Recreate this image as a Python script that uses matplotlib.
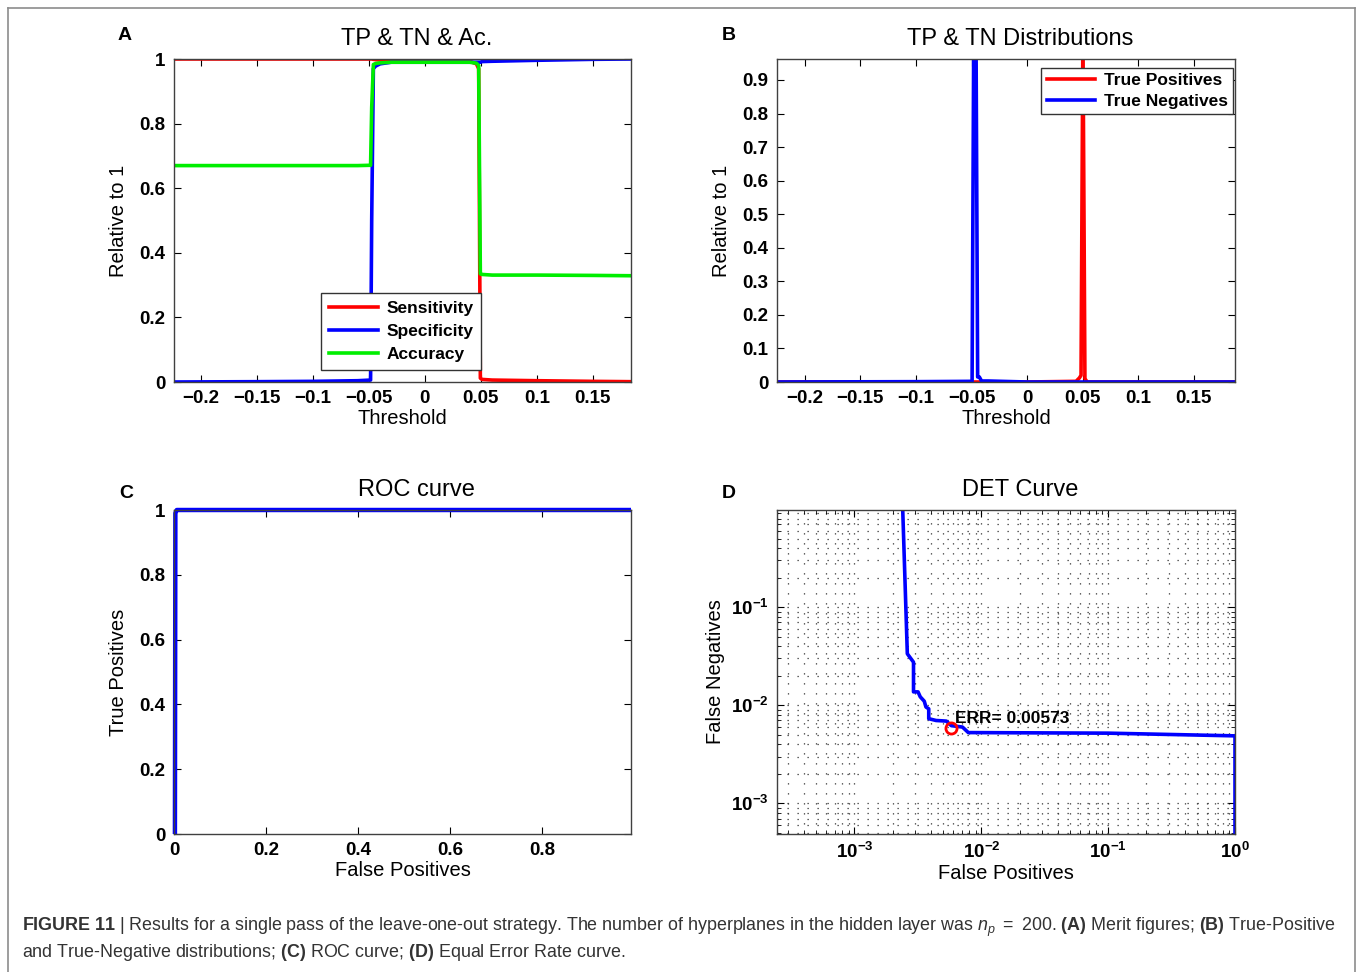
import numpy as np
import matplotlib
matplotlib.use('Agg')
import matplotlib.pyplot as plt
from matplotlib.ticker import FuncFormatter, FixedLocator, LogLocator, NullFormatter
from matplotlib.lines import Line2D

plt.rcParams['font.family'] = ['Liberation Sans', 'DejaVu Sans']
plt.rcParams['mathtext.fontset'] = 'custom'
plt.rcParams['mathtext.rm'] = 'Liberation Sans'
plt.rcParams['mathtext.it'] = 'Liberation Sans:italic'
plt.rcParams['mathtext.bf'] = 'Liberation Sans:bold'

# --- A: merit figures vs threshold
thr_a = [-0.224, -0.15, -0.1, -0.06, -0.0485, -0.0475, -0.046, -0.044, -0.04, -0.03, 0.0,
         0.03, 0.04, 0.046, 0.048, 0.0495, 0.051, 0.06, 0.1, 0.15, 0.184]
sensitivity = [1.0, 1.0, 1.0, 1.0, 1.0, 1.0, 0.999, 0.998, 0.997, 0.997, 0.996,
               0.995, 0.993, 0.985, 0.97, 0.012, 0.008, 0.006, 0.004, 0.002, 0.001]
specificity = [0.0, 0.001, 0.002, 0.004, 0.006, 0.5, 0.97, 0.978, 0.985, 0.99, 0.99,
               0.99, 0.99, 0.99, 0.99, 0.99, 0.992, 0.993, 0.996, 0.999, 1.0]
accuracy = [0.67, 0.67, 0.67, 0.67, 0.671, 0.85, 0.983, 0.986, 0.988, 0.99, 0.99,
            0.99, 0.99, 0.987, 0.98, 0.335, 0.333, 0.331, 0.331, 0.33, 0.329]

# --- B: TP / TN distributions
thr_b = [-0.225, -0.1, -0.0495, -0.0475, -0.0465, -0.0445, -0.043, -0.041, -0.035, 0.0,
         0.044, 0.047, 0.0485, 0.0502, 0.052, 0.054, 0.1, 0.187]
tp_dist = [0.0, 0.0, 0.0, 0.0, 0.0, 0.0, 0.0, 0.0, 0.0, 0.0,
           0.002, 0.012, 0.02, 1.05, 0.01, 0.0, 0.0, 0.0]
tn_dist = [0.0, 0.001, 0.002, 1.4, 1.4, 0.015, 0.015, 0.003, 0.003, 0.0,
           0.0, 0.0, 0.0, 0.0, 0.0, 0.0, 0.0, 0.0]

# --- C: ROC curve
roc_fp = [0.002, 0.003, 0.006, 0.2, 0.6, 0.993]
roc_tp = [0.0, 0.99, 1.0, 1.0, 1.0, 1.0]

# --- D: DET curve
det_fp = [1e-4, 2.4e-3, 2.61e-3, 2.92e-3, 2.92e-3, 3.17e-3, 3.3e-3, 3.55e-3, 3.66e-3, 3.85e-3,
          3.85e-3, 4.4e-3, 5.3e-3, 5.8e-3, 7.1e-3, 7.9e-3, 0.1, 1.0, 1.0]
det_fn = [1.0, 1.0, 0.0335, 0.0275, 0.0137, 0.0137, 0.0122, 0.011, 0.0096, 0.0092,
          0.0073, 0.0070, 0.0069, 0.0062, 0.0060, 0.00527, 0.0052, 0.00488, 1e-4]
err_point = (0.00573, 0.00586)

fig = plt.figure(figsize=(13.58, 9.72), dpi=100)
W, H = 1358.0, 972.0


def box(l, t, r, b):
    return [l / W, 1 - b / H, (r - l) / W, (b - t) / H]


def fmt_lin(v, _):
    s = '%g' % round(v, 6)
    return s.replace('-', '\u2212')


def style(ax):
    ax.tick_params(direction='in', top=True, right=True, length=5, width=0.8,
                   labelsize=13.5, pad=6)
    for lab in ax.get_xticklabels() + ax.get_yticklabels():
        lab.set_fontweight('bold')
    for s in ax.spines.values():
        s.set_linewidth(1.0)
        s.set_color('0.25')


tick_thr = [-0.2, -0.15, -0.1, -0.05, 0, 0.05, 0.1, 0.15]
leg_kw = dict(fancybox=False, edgecolor='0.2', framealpha=1, borderaxespad=0,
              prop={'weight': 'bold', 'size': 12.5}, handlelength=2.8, handletextpad=0.5)
title_kw = dict(fontsize=17, pad=10, x=0.531)

# A
axA = fig.add_axes(box(174, 59, 631, 382))
axA.plot(thr_a, sensitivity, color='#ff0000', lw=2.6, label='Sensitivity')
axA.plot(thr_a, specificity, color='#0000ff', lw=2.6, label='Specificity')
axA.plot(thr_a, accuracy, color='#00ee00', lw=2.6, label='Accuracy')
axA.set_xlim(-0.224, 0.184)
axA.set_ylim(0, 1)
axA.xaxis.set_major_locator(FixedLocator(tick_thr))
axA.yaxis.set_major_locator(FixedLocator([0, 0.2, 0.4, 0.6, 0.8, 1]))
axA.xaxis.set_major_formatter(FuncFormatter(fmt_lin))
axA.yaxis.set_major_formatter(FuncFormatter(fmt_lin))
axA.set_title('TP & TN & Ac.', **title_kw)
axA.set_xlabel('Threshold', fontsize=14.5, labelpad=1)
axA.set_ylabel('Relative to 1', fontsize=14.5, labelpad=8)
style(axA)
legA = axA.legend(loc='lower left', bbox_to_anchor=(0.322, 0.037),
                  borderpad=0.45, labelspacing=0.45, **leg_kw)
legA.get_frame().set_linewidth(1.0)

# B
axB = fig.add_axes(box(777, 59, 1235, 382))
axB.plot(thr_b, tp_dist, color='#ff0000', lw=2.6, label='True Positives')
axB.plot(thr_b, tn_dist, color='#0000ff', lw=2.6, label='True Negatives')
axB.set_xlim(-0.225, 0.187)
axB.set_ylim(0, 0.9625)
axB.xaxis.set_major_locator(FixedLocator(tick_thr))
axB.yaxis.set_major_locator(FixedLocator(np.arange(0, 10) / 10))
axB.xaxis.set_major_formatter(FuncFormatter(fmt_lin))
axB.yaxis.set_major_formatter(FuncFormatter(fmt_lin))
axB.set_title('TP & TN Distributions', **title_kw)
axB.set_xlabel('Threshold', fontsize=14.5, labelpad=1)
axB.set_ylabel('Relative to 1', fontsize=14.5, labelpad=8)
style(axB)
legB = axB.legend(loc='upper right', bbox_to_anchor=(0.996, 0.972),
                  borderpad=0.3, labelspacing=0.3, **leg_kw)
legB.get_frame().set_linewidth(1.0)

# C
axC = fig.add_axes(box(174, 510, 631, 834))
axC.plot(roc_fp, roc_tp, color='#0000ff', lw=3.2, clip_on=False, solid_capstyle='butt')
axC.set_xlim(0, 0.993)
axC.set_ylim(0, 1)
axC.xaxis.set_major_locator(FixedLocator([0, 0.2, 0.4, 0.6, 0.8]))
axC.yaxis.set_major_locator(FixedLocator([0, 0.2, 0.4, 0.6, 0.8, 1]))
axC.xaxis.set_major_formatter(FuncFormatter(fmt_lin))
axC.yaxis.set_major_formatter(FuncFormatter(fmt_lin))
axC.set_title('ROC curve', **title_kw)
axC.set_xlabel('False Positives', fontsize=14.5, labelpad=1)
axC.set_ylabel('True Positives', fontsize=14.5, labelpad=8)
style(axC)

# D
axD = fig.add_axes(box(777, 510, 1235, 834))
axD.plot(det_fp, det_fn, color='#0000ff', lw=2.6)
axD.plot(*err_point, 'o', mfc='none', mec='#ff0000', mew=2, ms=8)
axD.text(err_point[0] * 1.08, err_point[1] * 1.12, 'ERR= %.5f' % err_point[0],
         fontsize=12.5, fontweight='bold')
axD.set_xscale('log')
axD.set_yscale('log')
axD.set_xlim(2.45e-4, 1.0)
axD.set_ylim(4.88e-4, 0.977)
axD.xaxis.set_major_locator(FixedLocator([1e-3, 1e-2, 1e-1, 1]))
axD.yaxis.set_major_locator(FixedLocator([1e-3, 1e-2, 1e-1]))
logfmt = FuncFormatter(lambda v, _: r'$\mathbf{10^{%d}}$' % int(round(np.log10(v))))
axD.xaxis.set_major_formatter(logfmt)
axD.yaxis.set_major_formatter(logfmt)
axD.xaxis.set_minor_locator(LogLocator(base=10, subs=np.arange(2, 10), numticks=20))
axD.yaxis.set_minor_locator(LogLocator(base=10, subs=np.arange(2, 10), numticks=20))
axD.xaxis.set_minor_formatter(NullFormatter())
axD.yaxis.set_minor_formatter(NullFormatter())
axD.grid(True, which='both', linestyle=(0, (1, 7)), color='0.2', linewidth=0.9)
axD.set_axisbelow(True)
axD.set_title('DET Curve', **title_kw)
axD.set_xlabel('False Positives', fontsize=14.5, labelpad=1)
axD.set_ylabel('False Negatives', fontsize=14.5, labelpad=4)
style(axD)
axD.tick_params(which='minor', direction='in', top=True, right=True, length=3)

# panel letters
for letter, (px, py) in zip('ABCD', [(125, 35), (729, 35), (126, 493), (729, 493)]):
    fig.text(px / W, 1 - py / H, letter, fontsize=14, fontweight='bold',
             ha='center', va='center')

# outer frame
frame_kw = dict(color='0.55', lw=1.2, transform=fig.transFigure)
fig.add_artist(Line2D([8 / W, 8 / W], [0, 1 - 8 / H], **frame_kw))
fig.add_artist(Line2D([8 / W, 1355 / W], [1 - 8 / H, 1 - 8 / H], **frame_kw))
fig.add_artist(Line2D([1355 / W, 1355 / W], [0, 1 - 8 / H], **frame_kw))

# caption
line1 = (r'$\mathbf{FIGURE\ 11}$ | Results for a single pass of the leave-one-out strategy. '
         r'The number of hyperplanes in the hidden layer was $\mathit{n_p}$ $=$ $\mathit{200}$. '
         r'$\mathbf{(A)}$ Merit figures; $\mathbf{(B)}$ True-Positive')
line2 = (r'and True-Negative distributions; $\mathbf{(C)}$ ROC curve; '
         r'$\mathbf{(D)}$ Equal Error Rate curve.')
fig.text(22 / W, 1 - 927 / H, line1, fontsize=12.9, color='0.2', va='center')
fig.text(22 / W, 1 - 952 / H, line2, fontsize=12.9, color='0.2', va='center')

fig.savefig('out.png', dpi=100)
